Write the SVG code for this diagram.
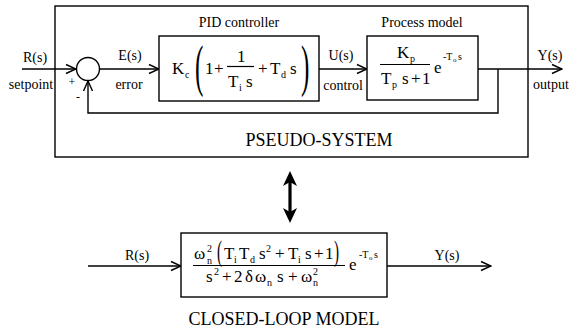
<svg xmlns="http://www.w3.org/2000/svg" width="570" height="330" viewBox="0 0 570 330" font-family="'Liberation Serif', 'Times New Roman', serif">
<defs>
<marker id="open" markerWidth="12" markerHeight="12" refX="11" refY="6" orient="auto" markerUnits="userSpaceOnUse">
<path d="M1,1.5 L11,6 L1,10.5" fill="none" stroke="#000" stroke-width="1.4"/>
</marker>
<style>
.box{fill:#fff;stroke:#000;stroke-width:1.4}
.ln{fill:none;stroke:#000;stroke-width:1.4}
text{font-family:'Liberation Serif','Times New Roman',serif;fill:#000}
.lb{font-size:14px;text-anchor:middle}
.m{font-size:17px}
.sb{font-size:10px}
.tiny{font-size:7px}
.ttl{font-size:18px;text-anchor:middle}
</style>
</defs>
<rect width="570" height="330" fill="#fff"/>

<g id="pseudo-system">
<rect class="box" x="55" y="6" width="473" height="151"/>
<text class="ttl" x="319" y="146">PSEUDO-SYSTEM</text>
</g>

<g id="connectors">
<line class="ln" x1="22" y1="69" x2="76" y2="69" marker-end="url(#open)"/>
<line class="ln" x1="100" y1="69" x2="159" y2="69" marker-end="url(#open)"/>
<line class="ln" x1="319" y1="69" x2="367" y2="69" marker-end="url(#open)"/>
<line class="ln" x1="478" y1="69" x2="562" y2="69" marker-end="url(#open)"/>
<polyline class="ln" points="498,69 498,113 88,113 88,81" marker-end="url(#open)"/>
<line class="ln" x1="88" y1="266" x2="181" y2="266" marker-end="url(#open)"/>
<line class="ln" x1="387" y1="266" x2="491" y2="266" marker-end="url(#open)"/>
<g id="double-arrow">
<line x1="290" y1="180" x2="290" y2="214" stroke="#000" stroke-width="3.2"/>
<polygon points="290,171 297,186 290,182 283,186" fill="#000"/>
<polygon points="290,223 297,208 290,212 283,208" fill="#000"/>
</g>
</g>

<g id="labels">
<text class="lb" x="35" y="62">R(s)</text>
<text class="lb" x="31" y="89">setpoint</text>
<text x="72" y="86" style="font-size:12px;text-anchor:middle">+</text>
<text x="78" y="101" style="font-size:12px;text-anchor:middle">-</text>
<text class="lb" x="130" y="60">E(s)</text>
<text class="lb" x="129" y="89">error</text>
<text class="lb" x="341" y="60">U(s)</text>
<text class="lb" x="343" y="90">control</text>
<text class="lb" x="550" y="60">Y(s)</text>
<text class="lb" x="551" y="89">output</text>
<text class="lb" x="137" y="260">R(s)</text>
<text class="lb" x="447" y="260">Y(s)</text>
</g>

<g id="sum">
<circle class="box" cx="88" cy="69" r="11.5"/>
</g>

<g id="pid-controller">
<text class="lb" x="239" y="27">PID controller</text>
<rect class="box" x="159" y="36" width="160" height="65"/>
<text class="m" x="172" y="74">K</text>
<text class="sb" x="185" y="78">c</text>
<text x="0" y="0" transform="translate(195,85) scale(0.45,1)" style="font-size:56px">(</text>
<text class="m" x="205" y="74">1</text>
<text class="m" x="214" y="74">+</text>
<text class="m" x="237" y="62">1</text>
<line x1="227" y1="66.5" x2="254" y2="66.5" stroke="#000" stroke-width="1.2"/>
<text class="m" x="228" y="87">T</text>
<text class="sb" x="239" y="91">i</text>
<text class="m" x="246" y="87">s</text>
<text class="m" x="258" y="74">+</text>
<text class="m" x="270" y="74">T</text>
<text class="sb" x="281" y="78">d</text>
<text class="m" x="290" y="74">s</text>
<text x="0" y="0" transform="translate(301,85) scale(0.45,1)" style="font-size:56px">)</text>
</g>

<g id="process-model">
<text class="lb" x="422" y="27">Process model</text>
<rect class="box" x="367" y="36" width="111" height="64"/>
<text class="m" x="397" y="58">K</text>
<text class="sb" x="410" y="62">p</text>
<line x1="380" y1="64.5" x2="430" y2="64.5" stroke="#000" stroke-width="1.2"/>
<text class="m" x="381" y="84">T</text>
<text class="sb" x="392" y="88">p</text>
<text class="m" x="402" y="84">s</text>
<text class="m" x="411" y="84">+</text>
<text class="m" x="422" y="84">1</text>
<text class="m" x="434" y="73">e</text>
<text class="sb" x="443" y="60">-T</text>
<text class="tiny" x="453" y="62">o</text>
<text class="sb" x="458" y="60">s</text>
</g>

<g id="closed-loop-model">
<rect class="box" x="181" y="233" width="206" height="64"/>
<text class="m" x="194" y="259">ω</text>
<text class="sb" x="207" y="252">2</text>
<text class="sb" x="207" y="264">n</text>
<text x="0" y="0" transform="translate(217,261) scale(0.5,0.95)" style="font-size:30px">(</text>
<text class="m" x="224" y="259">T</text>
<text class="sb" x="234" y="263">i</text>
<text class="m" x="239" y="259">T</text>
<text class="sb" x="250" y="263">d</text>
<text class="m" x="259" y="259">s</text>
<text class="sb" x="266" y="252">2</text>
<text class="m" x="275" y="259">+</text>
<text class="m" x="288" y="259">T</text>
<text class="sb" x="298" y="263">i</text>
<text class="m" x="305" y="259">s</text>
<text class="m" x="314" y="259">+</text>
<text class="m" x="325" y="259">1</text>
<text x="0" y="0" transform="translate(334,261) scale(0.5,0.95)" style="font-size:30px">)</text>
<line x1="193" y1="265.5" x2="345" y2="265.5" stroke="#000" stroke-width="1.2"/>
<text class="m" x="206" y="282">s</text>
<text class="sb" x="214" y="275">2</text>
<text class="m" x="222" y="282">+</text>
<text class="m" x="234" y="282">2</text>
<text class="m" x="245" y="282">δ</text>
<text class="m" x="255" y="282">ω</text>
<text class="sb" x="267" y="286">n</text>
<text class="m" x="277" y="282">s</text>
<text class="m" x="288" y="282">+</text>
<text class="m" x="301" y="282">ω</text>
<text class="sb" x="313" y="275">2</text>
<text class="sb" x="313" y="286">n</text>
<text class="m" x="349" y="270">e</text>
<text class="sb" x="359" y="258">-T</text>
<text class="tiny" x="369" y="260">o</text>
<text class="sb" x="374" y="258">s</text>
<text class="ttl" x="284" y="325">CLOSED-LOOP MODEL</text>
</g>
</svg>
